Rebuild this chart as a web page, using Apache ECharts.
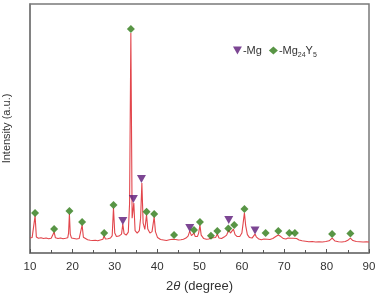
<!DOCTYPE html>
<html>
<head>
<meta charset="utf-8">
<script src="https://cdn.jsdelivr.net/npm/echarts@6/dist/echarts.min.js"></script>
<style>
  html, body { margin: 0; padding: 0; background: #fff; }
  #main { width: 378px; height: 294px; }
</style>
</head>
<body>
<div id="main"></div>
<script>
// XRD pattern: 2theta vs intensity (a.u.)
const xrdPattern = [
  [10.0, 6.0], [10.5, 6.2], [10.9, 6.5], [11.2, 14.9], [11.5, 6.4], [12.0, 5.9], [12.6, 6.1],
  [13.2, 5.8], [13.8, 6.0], [14.4, 5.7], [15.0, 5.9], [15.4, 6.2], [15.7, 8.4], [16.0, 6.1],
  [16.6, 5.8], [17.2, 6.0], [17.8, 5.7], [18.4, 5.9], [18.9, 6.1], [19.1, 8.0], [19.3, 15.7],
  [19.5, 7.6], [19.8, 6.0], [20.4, 5.8], [21.0, 5.6], [21.6, 5.8], [22.0, 6.2], [22.3, 11.2],
  [22.6, 6.3], [23.0, 5.6], [23.6, 5.3], [24.2, 5.1], [24.8, 5.0], [25.4, 5.1], [26.0, 4.9],
  [26.6, 5.2], [27.2, 5.5], [27.5, 6.8], [27.8, 5.6], [28.4, 5.7], [29.0, 6.0], [29.4, 7.0],
  [29.7, 18.1], [30.0, 8.0], [30.4, 6.6], [31.0, 6.8], [31.6, 7.6], [31.9, 11.6], [32.2, 7.8],
  [32.7, 7.2], [33.2, 8.4], [33.5, 20.0], [33.8, 88.4], [34.1, 14.0], [34.5, 20.1], [34.8, 9.0],
  [35.3, 8.0], [35.8, 9.0], [36.1, 14.0], [36.4, 28.1], [36.7, 12.0], [37.1, 9.5], [37.5, 15.3],
  [37.8, 9.6], [38.3, 8.0], [38.8, 8.6], [39.3, 14.5], [39.6, 8.6], [40.1, 6.2], [40.8, 5.4],
  [41.5, 5.2], [42.2, 5.0], [42.9, 5.3], [43.6, 5.5], [44.0, 6.0], [44.4, 5.4], [45.0, 5.2],
  [45.6, 5.3], [46.2, 5.5], [46.8, 6.0], [47.3, 6.8], [47.7, 8.8], [48.1, 7.0], [48.4, 7.4],
  [48.7, 8.0], [49.0, 6.6], [49.5, 6.6], [49.8, 8.0], [50.1, 11.2], [50.4, 7.2], [51.0, 5.8],
  [51.6, 5.5], [52.2, 5.6], [52.7, 6.0], [53.1, 5.6], [53.8, 6.2], [54.2, 7.6], [54.6, 6.0],
  [55.2, 5.8], [55.8, 6.4], [56.4, 7.2], [56.9, 9.2], [57.3, 8.0], [57.6, 8.4], [58.0, 9.6],
  [58.4, 7.4], [58.9, 6.6], [59.5, 6.6], [60.0, 8.0], [60.3, 12.0], [60.6, 16.1], [60.9, 11.0],
  [61.3, 7.4], [61.8, 6.2], [62.4, 6.0], [62.8, 6.6], [63.1, 7.6], [63.4, 6.5], [64.0, 5.6],
  [64.6, 5.3], [65.2, 5.6], [65.6, 6.4], [66.0, 5.5], [66.6, 5.4], [67.3, 5.8], [68.0, 6.6],
  [68.6, 7.2], [69.2, 6.6], [69.8, 5.8], [70.4, 5.6], [70.9, 6.0], [71.2, 6.4], [71.6, 5.9],
  [72.1, 5.9], [72.5, 6.4], [72.9, 5.8], [73.5, 5.2], [74.2, 4.9], [75.0, 4.7], [75.8, 4.5],
  [76.6, 4.6], [77.4, 4.4], [78.2, 4.5], [79.0, 4.4], [79.8, 4.6], [80.6, 4.9], [81.3, 6.0],
  [82.0, 4.8], [82.8, 4.5], [83.6, 4.4], [84.4, 4.6], [85.0, 5.1], [85.6, 6.0], [86.2, 5.0],
  [87.0, 4.6], [87.8, 4.5], [88.6, 4.4], [89.4, 4.5], [90.0, 4.4]
];

// phase markers [2theta, marker height]
const mgPeaks = [[31.9, 12.9], [34.4, 21.7], [36.3, 29.7], [47.7, 10.0], [56.9, 13.3], [63.1, 9.0]];
const mg24y5Peaks = [
  [11.2, 16.1], [15.7, 9.6], [19.3, 16.9], [22.3, 12.4], [27.5, 8.0], [29.7, 19.3], [33.8, 90.0],
  [37.5, 16.6], [39.3, 15.7], [44.0, 7.2], [48.7, 9.2], [50.1, 12.4], [52.7, 6.9], [54.2, 8.8],
  [56.8, 9.8], [58.2, 11.2], [60.6, 17.7], [65.6, 8.0], [68.6, 8.8], [71.2, 8.0], [72.5, 8.0],
  [81.3, 7.6], [85.6, 7.8]
];

const xTicks = [10, 20, 30, 40, 50, 60, 70, 80, 90];
const legendNames = ['Mg', 'Mg24Y5'];

const FONT = '"Liberation Sans", Arial, sans-serif';
const AXIS_GRAY = '#7a7a7a';
const downTri = 'path://M0,0L10,0L5,9Z';

const option = {
  backgroundColor: '#fff',
  animation: false,
  grid: {
    left: 30, right: 9, top: 4, bottom: 41, outerBoundsMode: 'none',
    show: true, borderColor: AXIS_GRAY, borderWidth: 1.5
  },
  legend: {
    left: 228, top: 40,
    itemWidth: 9, itemHeight: 8, itemGap: 7,
    data: [
      { name: legendNames[0], icon: downTri },
      { name: legendNames[1], icon: 'diamond' }
    ],
    formatter: n => n === 'Mg' ? '-Mg' : '-Mg{s|24}Y{s|5}',
    textStyle: {
      fontFamily: FONT, fontSize: 11, color: '#333', padding: [0, 0, 0, -4],
      rich: { s: { fontFamily: FONT, fontSize: 7, color: '#333', verticalAlign: 'bottom', padding: [9, 0, 0, 0] } }
    }
  },
  xAxis: {
    type: 'value', min: xTicks[0], max: xTicks[xTicks.length - 1], interval: 10,
    name: '2{i|θ} (degree)', nameLocation: 'middle', nameGap: 27,
    nameTextStyle: {
      fontFamily: FONT, fontSize: 13, color: '#333',
      rich: { i: { fontFamily: FONT, fontSize: 13, fontStyle: 'italic', color: '#333' } }
    },
    axisLine: { lineStyle: { color: AXIS_GRAY, width: 1.5 } },
    axisTick: { inside: true, length: 4, lineStyle: { color: '#555' } },
    minorTick: { show: true, splitNumber: 2, length: 3, lineStyle: { color: '#555' } },
    axisLabel: { fontFamily: FONT, fontSize: 11.5, color: '#333', margin: 8 },
    splitLine: { show: false }
  },
  yAxis: {
    type: 'value', min: 0, max: 100,
    name: 'Intensity (a.u.)', nameLocation: 'middle', nameGap: 18,
    nameTextStyle: { fontFamily: FONT, fontSize: 11, color: '#333' },
    axisLine: { show: true, lineStyle: { color: AXIS_GRAY, width: 1.5 } },
    axisTick: { show: false },
    axisLabel: { show: false },
    splitLine: { show: false }
  },
  series: [
    {
      name: 'pattern', type: 'line', data: xrdPattern, showSymbol: false,
      lineStyle: { color: '#e2464c', width: 1.1 }, z: 2
    },
    {
      name: legendNames[0], type: 'scatter', data: mgPeaks, symbol: downTri, symbolSize: [9, 8],
      itemStyle: { color: '#5b1878' }, z: 3
    },
    {
      name: legendNames[1], type: 'scatter', data: mg24y5Peaks, symbol: 'diamond', symbolSize: 8,
      itemStyle: { color: '#2e7a16' }, z: 3
    }
  ]
};

window.addEventListener('DOMContentLoaded', () => {
  const chart = echarts.init(document.getElementById('main'));
  chart.setOption(option);
});
</script>
</body>
</html>
